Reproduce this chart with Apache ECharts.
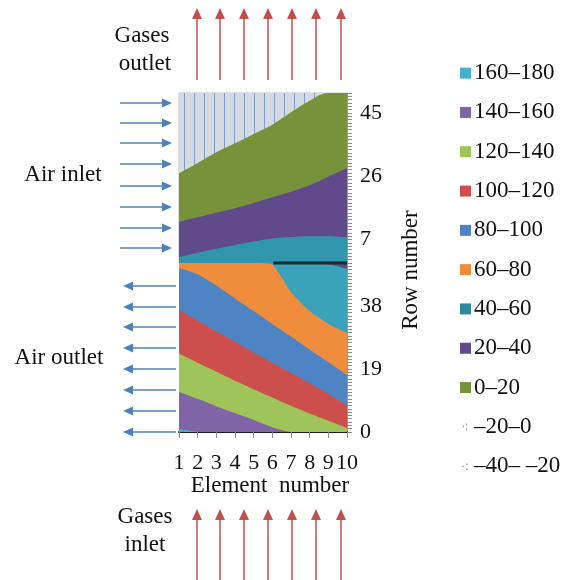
<!DOCTYPE html>
<html>
<head>
<meta charset="utf-8">
<script src="https://cdn.jsdelivr.net/npm/echarts@6/dist/echarts.min.js"></script>
<style>
  html, body { margin: 0; padding: 0; background: #ffffff; }
  #chart { width: 574px; height: 580px; }
</style>
</head>
<body>
<div id="chart"></div>
<script>
// Heat-exchanger element number along the gas flow
const elements = [1, 2, 3, 4, 5, 6, 7, 8, 9, 10];
const rowsPerSection = 51;
const lowerRowLabels = [0, 19, 38];
const upperRowLabels = [7, 26, 45];

// Lower section (gas inlet / air outlet): upper edge row of each temperature band
const lower160_180 = [1.0, 0, 0, 0, 0, 0, 0, 0, 0, 0];
const lower140_160 = [12.1, 10.0, 7.8, 5.7, 3.6, 1.4, 0, 0, 0, 0];
const lower120_140 = [23.7, 20.9, 18.2, 15.5, 12.9, 10.4, 7.9, 5.6, 3.4, 1.2];
const lower100_120 = [36.8, 33.6, 30.4, 27.2, 24.0, 20.9, 17.8, 14.7, 11.5, 8.1];
const lower80_100 = [49.5, 47.6, 44.2, 40.3, 36.5, 32.6, 28.8, 24.9, 21.1, 17.2];
const lower60_80 = [51, 51, 51, 51, 51, 50.5, 42.2, 36.5, 32.6, 29.9];
const lower40_60 = [51, 51, 51, 51, 51, 51, 51, 51, 50.6, 49.2];
const lower20_40 = [51, 51, 51, 51, 51, 51, 51, 51, 51, 51];

// Upper section (gas outlet / air inlet): upper edge row of each temperature band
const upper40_60 = [1.8, 3.1, 4.3, 5.4, 6.45, 7.35, 7.8, 8.0, 8.0, 7.7];
const upper20_40 = [12.4, 13.7, 15.1, 16.4, 18.0, 19.7, 21.4, 23.3, 25.9, 28.4];
const upper0_20 = [26.9, 30.0, 33.2, 35.9, 38.7, 41.5, 45.2, 48.7, 51, 51];
const upperMinus20_0 = [51, 51, 51, 51, 51, 51, 51, 51, 51, 51];

// Dark seam at the joint of the two sections
const seamElements = [6.05, 10];
const seamRows = [0, 0];

const legendNames = ['160–180', '140–160', '120–140', '100–120', '80–100', '60–80',
                     '40–60', '20–40', '0–20', '–20–0', '–40– –20'];

const SERIF = '"Liberation Serif", "DejaVu Serif", serif';
const FONT_SIZE = 23;

// Corrosion hatch: pale grey with thin vertical blue lines
function hatchPattern() {
  const c = document.createElement('canvas');
  c.width = 10; c.height = 10;
  const g = c.getContext('2d');
  g.fillStyle = '#d5d9e0';
  g.fillRect(0, 0, 10, 10);
  g.fillStyle = '#7d9bcb';
  g.fillRect(4, 0, 1, 10);
  return { image: c, repeat: 'repeat' };
}
// Sparse dot pattern for the legend keys of the sub-zero bands
function dotPattern(vertical) {
  const c = document.createElement('canvas');
  c.width = 12; c.height = 12;
  const g = c.getContext('2d');
  g.fillStyle = '#ffffff';
  g.fillRect(0, 0, 12, 12);
  g.fillStyle = '#7d9bcb';
  if (vertical) { g.fillRect(3, 4, 1, 2); g.fillRect(6, 2, 1, 2); g.fillRect(6, 7, 1, 2); }
  else { g.fillRect(2, 5, 2, 1); g.fillRect(6, 3, 2, 1); g.fillRect(6, 8, 2, 1); }
  return { image: c, repeat: 'repeat' };
}

function band(name, grid, rows, fill, key, smooth) {
  return {
    type: 'line', name: name,
    xAxisIndex: grid, yAxisIndex: grid,
    data: elements.map((e, i) => [e, rows[i]]),
    showSymbol: false, symbol: 'none',
    smooth: smooth,
    lineStyle: { width: 0 },
    itemStyle: { color: key || fill },
    areaStyle: { color: fill, opacity: 1 },
    emphasis: { disabled: true },
    animation: false
  };
}

const series = [
  // upper section, highest band first so lower bands paint over it
  band('–20–0', 0, upperMinus20_0, hatchPattern(), dotPattern(true), false),
  band('0–20', 0, upper0_20, '#76933c', null, 0.35),
  band('20–40', 0, upper20_40, '#604a8b', null, 0.35),
  band('40–60', 0, upper40_60, '#3196ab', '#31889e', 0.35),
  {
    type: 'line', name: 'seam', xAxisIndex: 0, yAxisIndex: 0,
    data: seamElements.map((e, i) => [e, seamRows[i]]),
    showSymbol: false, symbol: 'none', clip: false, z: 3,
    lineStyle: { color: '#1d2a33', width: 3 },
    emphasis: { disabled: true }, animation: false
  },
  // lower section
  band('20–40', 1, lower20_40, '#604a8b', null, false),
  band('40–60', 1, lower40_60, '#3aa3bb', '#31889e', 0.3),
  band('60–80', 1, lower60_80, '#ef8d3c', null, 0.2),
  band('80–100', 1, lower80_100, '#4f84c4', null, 0.2),
  band('100–120', 1, lower100_120, '#cc4f4c', null, 0.2),
  band('120–140', 1, lower120_140, '#9fc45a', null, 0.2),
  band('140–160', 1, lower140_160, '#8064a8', null, 0.2),
  band('160–180', 1, lower160_180, '#45b0cc', null, false),
  {
    type: 'line', name: '–40– –20', xAxisIndex: 0, yAxisIndex: 0, data: [],
    itemStyle: { color: dotPattern(false) }, animation: false
  }
];

function rowAxis(grid, labels) {
  return {
    type: 'value', gridIndex: grid, position: 'right',
    min: 0, max: rowsPerSection, interval: 1,
    axisLine: { show: true, lineStyle: { color: '#9a9a9a', width: 1 } },
    axisTick: { show: true, length: 5, lineStyle: { color: '#8c8c8c', width: 1 } },
    axisLabel: {
      margin: 13, color: '#111', fontFamily: SERIF, fontSize: 22,
      formatter: v => (labels.indexOf(v) >= 0 ? String(v) : '')
    },
    splitLine: { show: false }
  };
}

function arrowH(y, xTail, xTip, color) {
  const d = xTip > xTail ? 1 : -1;
  return [
    { type: 'line', silent: true, shape: { x1: xTail, y1: y, x2: xTip - d * 6, y2: y },
      style: { stroke: color, lineWidth: 1.5 } },
    { type: 'polygon', silent: true,
      shape: { points: [[xTip, y], [xTip - d * 10, y - 4.5], [xTip - d * 10, y + 4.5]] },
      style: { fill: color } }
  ];
}
function arrowUp(x, yTail, yTip, color) {
  return [
    { type: 'line', silent: true, shape: { x1: x, y1: yTail, x2: x, y2: yTip + 6 },
      style: { stroke: color, lineWidth: 1.5 } },
    { type: 'polygon', silent: true,
      shape: { points: [[x, yTip], [x - 5, yTip + 11], [x + 5, yTip + 11]] },
      style: { fill: color } }
  ];
}
function label(text, x, y, rotation) {
  return {
    type: 'text', silent: true, x: x, y: y, rotation: rotation || 0,
    style: {
      text: text, font: FONT_SIZE + 'px ' + SERIF, fill: '#111',
      align: 'center', verticalAlign: 'middle',
      textAlign: 'center', textVerticalAlign: 'middle'
    }
  };
}

const graphics = [];
[103, 123, 143, 164, 186, 207, 228, 248].forEach(y => graphics.push(...arrowH(y, 120, 172, '#4f81bd')));
[286, 307, 327, 348, 369, 390, 411, 432].forEach(y => graphics.push(...arrowH(y, 176, 123, '#4f81bd')));
[197, 220, 244, 268, 292, 316, 341].forEach(x => {
  graphics.push(...arrowUp(x, 80, 8, '#c0504d'));
  graphics.push(...arrowUp(x, 580, 509, '#c0504d'));
});
graphics.push(
  label('Gases', 142, 36), label('outlet', 145, 64),
  label('Air inlet', 63, 175), label('Air outlet', 59, 358),
  label('Gases', 145, 517), label('inlet', 145, 545),
  label('Element  number', 270, 486),
  label('Corrosion', 240, 114),
  label('Row number', 411, 270, Math.PI / 2)
);

const chart = echarts.init(document.getElementById('chart'), null, { renderer: 'canvas' });
chart.setOption({
  animation: false,
  backgroundColor: '#ffffff',
  grid: [
    { left: 179, right: 227, top: 93, height: 170, show: true, borderColor: '#c4c4c4', borderWidth: 1, backgroundColor: 'transparent' },
    { left: 179, right: 227, top: 263, height: 169 }
  ],
  xAxis: [
    { type: 'value', gridIndex: 0, min: 1, max: 10, interval: 1, show: false },
    {
      type: 'value', gridIndex: 1, min: 1, max: 10, interval: 1, position: 'bottom',
      axisLine: { show: true, onZero: false, lineStyle: { color: '#1e1e1e', width: 2 } },
      axisTick: { show: true, length: 6, lineStyle: { color: '#8c8c8c' } },
      axisLabel: { margin: 20, color: '#111', fontFamily: SERIF, fontSize: 22 },
      splitLine: { show: false }
    }
  ],
  yAxis: [rowAxis(0, upperRowLabels), rowAxis(1, lowerRowLabels)],
  legend: {
    orient: 'vertical', left: 455, top: 56,
    icon: 'rect', itemWidth: 11, itemHeight: 11, itemGap: 15,
    selectedMode: false,
    textStyle: { fontFamily: SERIF, fontSize: FONT_SIZE, color: '#111', lineHeight: 24.3, padding: [0, 0, 0, -2] },
    data: legendNames
  },
  graphic: { elements: graphics },
  series: series
});
</script>
</body>
</html>
